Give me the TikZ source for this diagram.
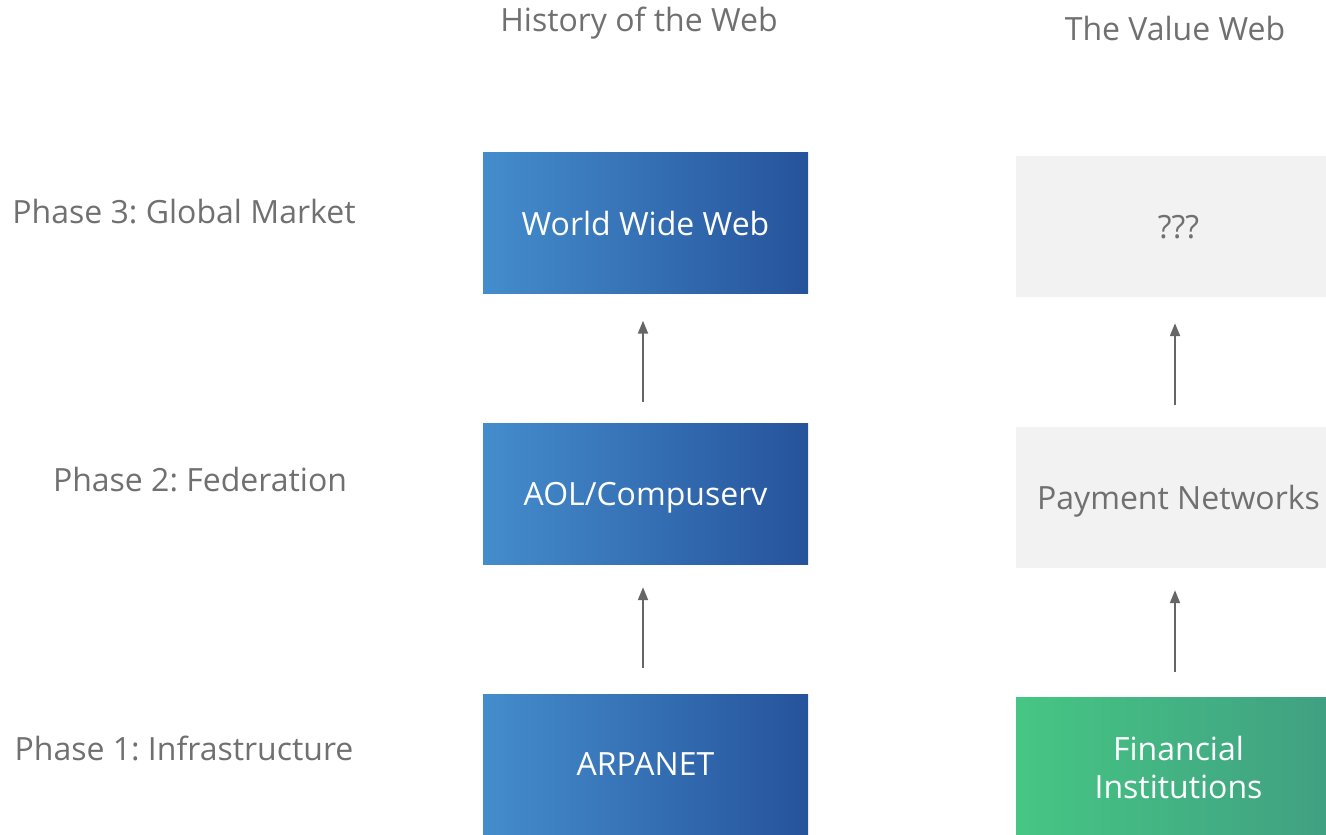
\documentclass[tikz,border=0pt]{standalone}
\usepackage{fontspec}
\setmainfont{Open Sans}
\usetikzlibrary{arrows.meta}
\frenchspacing
\definecolor{txtgrey}{RGB}{112,112,112}
\definecolor{arrgrey}{RGB}{102,102,102}
\definecolor{blueL}{RGB}{68,141,205}
\definecolor{blueR}{RGB}{38,83,155}
\definecolor{greenL}{RGB}{70,198,132}
\definecolor{greenR}{RGB}{64,158,130}
\definecolor{boxgrey}{RGB}{242,242,242}
\begin{document}
\begin{tikzpicture}[x=1pt,y=-1pt,
  every node/.style={font=\fontsize{32}{38}\selectfont, inner sep=0pt},
  bluebox/.style={rectangle, left color=blueL, right color=blueR, text=white, minimum width=325pt, minimum height=141pt, text depth=0pt},
  greybox/.style={rectangle, fill=boxgrey, text=txtgrey, minimum width=325pt, minimum height=141pt, text depth=0pt},
  greenbox/.style={rectangle, left color=greenL, right color=greenR, text=white, minimum width=325pt, minimum height=138pt, align=center},
  label/.style={text=txtgrey},
  uparrow/.style={draw=arrgrey, line width=2pt, -{Triangle[width=10pt,length=13pt]}}
]
\useasboundingbox (0,0) rectangle (1326,835);
\node[label] (hist) at (639,23) {History of the Web};
\node[label] (val) at (1175,28) {The Value Web};
\node[label] (p3) at (184,212) {Phase 3: Global Market};
\node[label] (p2) at (200,480) {Phase 2: Federation};
\node[label] (p1) at (184,748) {Phase 1: Infrastructure};

\node[bluebox] (www) at (645.5,223) {World Wide Web};
\node[bluebox] (aol) at (645.5,493.5) {AOL/Compuserv};
\node[bluebox] (arpa) at (645.5,764.5) {ARPANET};

\node[greybox] (q) at (1178.5,226.5) {???};
\node[greybox] (pay) at (1178.5,497.5) {Payment Networks};
\node[greenbox] (fin) at (1178.5,766) {\strut Financial\\Institutions};

\draw[uparrow, shorten <=26pt, shorten >=23pt] (arpa.north -| 643,0) -- (aol.south -| 643,0);
\draw[uparrow, shorten <=21pt, shorten >=27pt] (aol.north -| 643,0) -- (www.south -| 643,0);
\draw[uparrow, shorten <=25pt, shorten >=22pt] (fin.north -| 1175,0) -- (pay.south -| 1175,0);
\draw[uparrow, shorten <=22pt, shorten >=26pt] (pay.north -| 1175,0) -- (q.south -| 1175,0);
\end{tikzpicture}
\end{document}
